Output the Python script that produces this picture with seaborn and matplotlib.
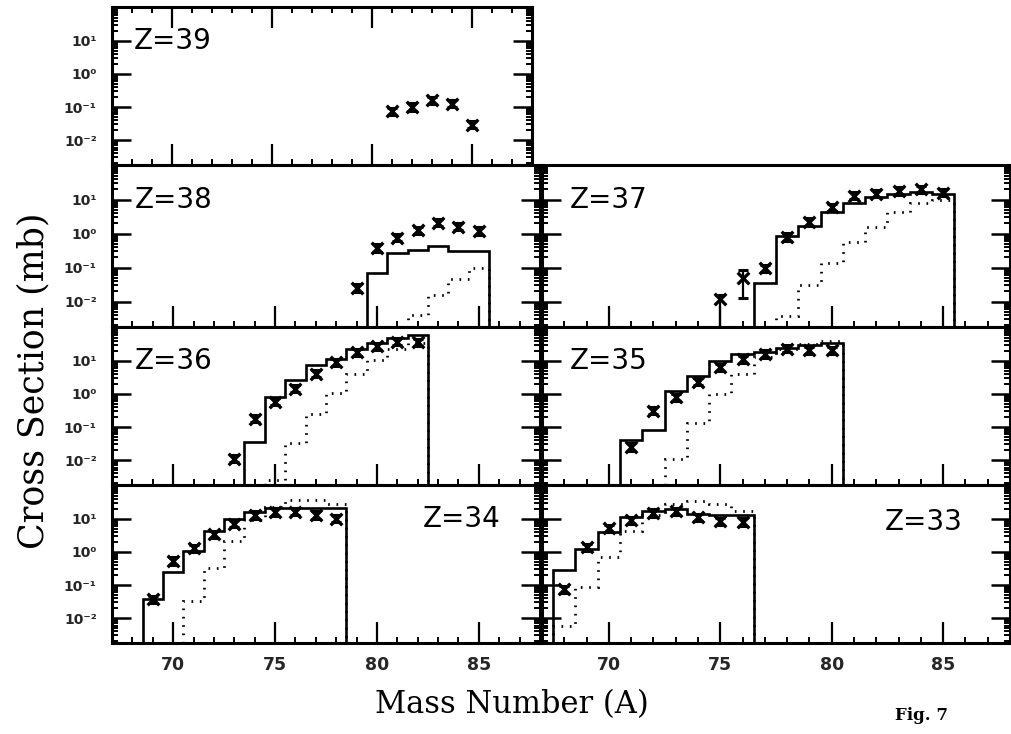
import numpy as np
import pandas as pd
import matplotlib
matplotlib.use("Agg")
import matplotlib.pyplot as plt
import matplotlib.transforms as mtransforms
from matplotlib.ticker import FixedLocator, MultipleLocator, LogLocator, NullFormatter, FixedFormatter
import seaborn as sns

# ---------------- data ----------------
nan = np.nan
z39_A = [81, 82, 83, 84, 85]
z39_sigma = [0.075, 0.10, 0.16, 0.125, 0.029]

z38_A = [79, 80, 81, 82, 83, 84, 85]
z38_sigma = [0.025, 0.38, 0.75, 1.25, 2.1, 1.6, 1.2]
z38_solid_A = [80, 81, 82, 83, 84, 85]
z38_solid = [0.07, 0.27, 0.34, 0.42, 0.30, 0.30]
z38_dot_A = [82, 83, 84, 85]
z38_dot = [0.004, 0.016, 0.045, 0.10]

z37_A = [75, 76, 77, 78, 79, 80, 81, 82, 83, 84, 85]
z37_sigma = [0.012, 0.05, 0.095, 0.8, 2.2, 6.0, 13, 15, 18, 20, 16]
z37_lo = [0.0012, 0.013, nan, nan, nan, nan, nan, nan, nan, nan, nan]
z37_hi = [0.016, 0.085, nan, nan, nan, nan, nan, nan, nan, nan, nan]
z37_solid_A = [77, 78, 79, 80, 81, 82, 83, 84, 85]
z37_solid = [0.035, 0.85, 1.7, 4.2, 7.7, 11.7, 14.8, 17, 14.8]
z37_dot_A = [78, 79, 80, 81, 82, 83, 84, 85]
z37_dot = [0.0038, 0.03, 0.14, 0.55, 1.6, 4.2, 8.0, 10.0]

z36_A = [73, 74, 75, 76, 77, 78, 79, 80, 81, 82]
z36_sigma = [0.011, 0.18, 0.59, 1.45, 4.1, 9, 18, 27, 38, 36]
z36_solid_A = [74, 75, 76, 77, 78, 79, 80, 81, 82]
z36_solid = [0.035, 0.79, 2.6, 7.4, 11, 22, 35, 49, 59]
z36_dot_A = [75, 76, 77, 78, 79, 80, 81, 82]
z36_dot = [0.0026, 0.032, 0.25, 1.1, 3.9, 10.5, 23, 35]

z35_A = [71, 72, 73, 74, 75, 76, 77, 78, 79, 80]
z35_sigma = [0.025, 0.31, 0.8, 2.3, 6.3, 11, 16, 23, 21, 21]
z35_solid_A = [71, 72, 73, 74, 75, 76, 77, 78, 79, 80]
z35_solid = [0.04, 0.08, 1.2, 3.4, 10, 16.5, 19, 25, 30, 35]
z35_dot_A = [73, 74, 75, 76, 77, 78, 79, 80]
z35_dot = [0.011, 0.13, 0.96, 4.1, 13, 22, 32, 40]

z34_A = [69, 70, 71, 72, 73, 74, 75, 76, 77, 78]
z34_sigma = [0.037, 0.53, 1.3, 3.4, 7.1, 13, 16, 16.5, 13, 10]
z34_solid_A = [69, 70, 71, 72, 73, 74, 75, 76, 77, 78]
z34_solid = [0.037, 0.24, 1.05, 4.3, 10, 16.5, 21, 21, 21, 21]
z34_dot_A = [71, 72, 73, 74, 75, 76, 77, 78]
z34_dot = [0.033, 0.33, 2.1, 9, 22, 36, 36, 27]

z33_A = [68, 69, 70, 71, 72, 73, 74, 75, 76]
z33_sigma = [0.075, 1.4, 5.1, 8.9, 15, 16.6, 11, 8.5, 8]
z33_solid_A = [68, 69, 70, 71, 72, 73, 74, 75, 76]
z33_solid = [0.28, 1.2, 4.1, 11, 17, 20, 14, 12.6, 12.6]
z33_dot_A = [68, 69, 70, 71, 72, 73, 74, 75, 76]
z33_dot = [0.006, 0.085, 0.72, 4.3, 13, 27, 35, 27, 17]

x_ticks = [70, 75, 80, 85]
x_tick_labels = ["70", "75", "80", "85"]
y_ticks = [0.01, 0.1, 1, 10]
y_tick_labels = ["10\u207b\u00b2", "10\u207b\u00b9", "10\u2070", "10\u00b9"]

# ---------------- style ----------------
sns.set_theme(style="ticks")
plt.rcParams['font.family'] = ['DejaVu Sans']
plt.rcParams['axes.linewidth'] = 2.2

W, H = 1012, 734
fig = plt.figure(figsize=(W / 100, H / 100), dpi=100)

rows_px = [(7, 165), (165, 327), (327, 485), (485, 643)]
cols_px = [(112, 540), (542, 1010)]


def make_ax(row, col, right_px=None):
    t, b = rows_px[row]
    l, r = cols_px[col]
    if right_px is not None:
        r = right_px
    return fig.add_axes([l / W, 1 - b / H, (r - l) / W, (b - t) / H])


panels = [
    dict(Z=39, row=0, col=0, A=z39_A, s=z39_sigma, right=532),
    dict(Z=38, row=1, col=0, A=z38_A, s=z38_sigma, sA=z38_solid_A, sv=z38_solid, dA=z38_dot_A, dv=z38_dot),
    dict(Z=37, row=1, col=1, A=z37_A, s=z37_sigma, lo=z37_lo, hi=z37_hi, sA=z37_solid_A, sv=z37_solid, dA=z37_dot_A, dv=z37_dot),
    dict(Z=36, row=2, col=0, A=z36_A, s=z36_sigma, sA=z36_solid_A, sv=z36_solid, dA=z36_dot_A, dv=z36_dot),
    dict(Z=35, row=2, col=1, A=z35_A, s=z35_sigma, sA=z35_solid_A, sv=z35_solid, dA=z35_dot_A, dv=z35_dot),
    dict(Z=34, row=3, col=0, A=z34_A, s=z34_sigma, sA=z34_solid_A, sv=z34_solid, dA=z34_dot_A, dv=z34_dot, lab=(0.727, 10)),
    dict(Z=33, row=3, col=1, A=z33_A, s=z33_sigma, sA=z33_solid_A, sv=z33_solid, dA=z33_dot_A, dv=z33_dot, lab=(0.733, 8)),
]

ylo, yhi = 10 ** -2.75, 10 ** 2.02
fac = 1.28

for p in panels:
    ax = make_ax(p['row'], p['col'], p.get('right'))
    ax.set_yscale('log')
    ax.set_xlim(67, 88)
    ax.set_ylim(ylo, yhi)

    # histograms (model calculations)
    if 'sA' in p:
        A_s = np.asarray(p['sA'], float)
        edges = np.append(A_s - 0.5, A_s[-1] + 0.5)
        ax.stairs(p['sv'], edges, baseline=1e-5, color='black', lw=1.9)
        A_d = np.asarray(p['dA'], float)
        edges_d = np.append(A_d - 0.5, A_d[-1] + 0.5)
        ax.stairs(p['dv'], edges_d, baseline=1e-5, color='black', lw=2.0,
                  linestyle=(0, (0.6, 2.4)))

    # data points
    df = pd.DataFrame({'A': p['A'], 'sigma': p['s']})
    lo = np.asarray(p.get('lo', [nan] * len(df)), float)
    hi = np.asarray(p.get('hi', [nan] * len(df)), float)
    lo = np.where(np.isnan(lo), df['sigma'] / fac, lo)
    hi = np.where(np.isnan(hi), df['sigma'] * fac, hi)
    ax.errorbar(df['A'], df['sigma'], yerr=[df['sigma'] - lo, hi - df['sigma']],
                fmt='none', ecolor='black', elinewidth=1.6, capsize=3.5, capthick=2.2, zorder=4)
    sns.scatterplot(data=df, x='A', y='sigma', ax=ax, marker='x', s=70,
                    color='black', linewidth=2.4, zorder=5, legend=False)

    ax.set_xlabel('')
    ax.set_ylabel('')

    # ticks
    ax.xaxis.set_major_locator(FixedLocator(x_ticks))
    ax.xaxis.set_minor_locator(MultipleLocator(1))
    ax.yaxis.set_major_locator(FixedLocator(y_ticks))
    ax.yaxis.set_minor_locator(LogLocator(base=10, subs=np.arange(2, 10), numticks=30))
    ax.yaxis.set_minor_formatter(NullFormatter())
    top = (p['row'] == 0)
    ax.tick_params(axis='x', which='both', direction='in', top=top, bottom=True, color='black')
    ax.tick_params(axis='x', which='major', length=15, width=1.6, pad=9)
    ax.tick_params(axis='x', which='minor', length=4.5, width=1.4)
    ax.tick_params(axis='y', which='both', direction='in', left=True, right=True, color='black')
    ax.tick_params(axis='y', which='major', length=14, width=1.8, pad=11)
    ax.tick_params(axis='y', which='minor', length=4.5, width=1.4)

    if p['row'] == 3:
        ax.xaxis.set_major_formatter(FixedFormatter(x_tick_labels))
        for t in ax.get_xticklabels():
            t.set_fontsize(12.5)
            t.set_fontweight('bold')
    else:
        ax.set_xticklabels([])
    if p['col'] == 0:
        ax.yaxis.set_major_formatter(FixedFormatter(y_tick_labels))
        for t in ax.get_yticklabels():
            t.set_fontsize(10)
            t.set_fontweight('bold')
    else:
        ax.set_yticklabels([])

    for sp in ax.spines.values():
        sp.set_linewidth(2.2)
        sp.set_color('black')

    trans = mtransforms.blended_transform_factory(ax.transAxes, ax.transData)
    lx, ly = p.get('lab', (0.052 if p['col'] == 0 else 0.06, 10))
    ax.text(lx, ly, f"Z={p['Z']}", transform=trans, ha='left', va='center',
            fontsize=20, color='black', family=['DejaVu Sans'])

fig.text(512 / W, 1 - 705 / H, "Mass Number (A)", ha='center', va='center',
         fontsize=22, family=['DejaVu Serif'], color='black')
fig.text(33 / W, 1 - 381 / H, "Cross Section (mb)", ha='center', va='center',
         rotation=90, fontsize=25, family=['DejaVu Serif'], color='black')
fig.text(922 / W, 1 - 716 / H, "Fig. 7", ha='center', va='center',
         fontsize=12, fontweight='bold', family=['DejaVu Serif'], color='black')

fig.savefig("out.png", dpi=100, facecolor='white')
